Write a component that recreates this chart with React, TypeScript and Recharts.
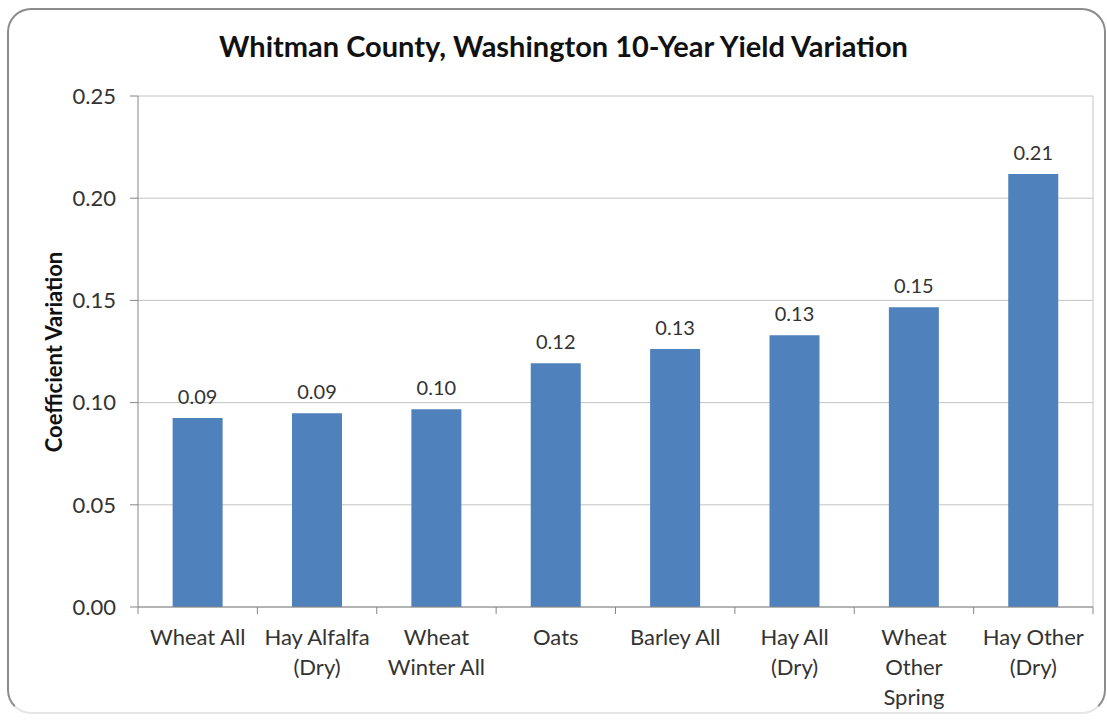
import { Bar, BarChart, CartesianGrid, LabelList, XAxis, YAxis } from 'recharts';

const categories = [
  'Wheat All',
  'Hay Alfalfa (Dry)',
  'Wheat Winter All',
  'Oats',
  'Barley All',
  'Hay All (Dry)',
  'Wheat Other Spring',
  'Hay Other (Dry)',
];

const tickLines = [
  ['Wheat All'],
  ['Hay Alfalfa', '(Dry)'],
  ['Wheat', 'Winter All'],
  ['Oats'],
  ['Barley All'],
  ['Hay All', '(Dry)'],
  ['Wheat', 'Other', 'Spring'],
  ['Hay Other', '(Dry)'],
];

const cv = [0.0925, 0.0948, 0.0968, 0.1193, 0.1262, 0.1330, 0.1466, 0.2118];

const yTicks = [0, 0.05, 0.1, 0.15, 0.2, 0.25];

const data = categories.map((name, i) => ({ name, cv: cv[i] }));

const FONT = 'Lato, "Open Sans", sans-serif';
const AXIS = '#868686';

function CatTick(props: any) {
  const { x, y, payload, index } = props;
  const half = payload?.offset || 59.7;
  const lines = tickLines[index] || [String(payload.value)];
  return (
    <g>
      <line x1={x - half} y1={y - 7} x2={x - half} y2={y} stroke={AXIS} />
      {index === categories.length - 1 && (
        <line x1={x + half} y1={y - 7} x2={x + half} y2={y} stroke={AXIS} />
      )}
      {lines.map((l: string, i: number) => (
        <text
          key={i}
          x={x}
          y={y + 31 + i * 30}
          textAnchor="middle"
          fill="#333"
          fontSize={22}
          fontFamily={FONT}
        >
          {l}
        </text>
      ))}
    </g>
  );
}

export default function App() {
  return (
    <div style={{ position: 'absolute', left: 0, top: 0, width: 1107, height: 721, overflow: 'hidden', background: '#fff' }}>
      <div
        style={{
          position: 'absolute',
          left: 7,
          top: 8,
          width: 1099,
          height: 706,
          border: '2px solid #8c8c8c',
          borderBottomColor: '#e6e6e6',
          borderRadius: 24,
          boxSizing: 'border-box',
        }}
      />
      <div
        style={{
          position: 'absolute',
          left: 0,
          top: 28,
          width: 1127,
          textAlign: 'center',
          fontFamily: FONT,
          fontWeight: 700,
          fontSize: 29,
          color: '#111',
        }}
      >
        Whitman County, Washington 10-Year Yield Variation
      </div>
      <div
        style={{
          position: 'absolute',
          left: 53,
          top: 352,
          transform: 'translate(-50%, -50%) rotate(-90deg)',
          whiteSpace: 'nowrap',
          fontFamily: FONT,
          fontWeight: 700,
          fontSize: 22,
          color: '#111',
        }}
      >
        Coefficient Variation
      </div>
      <div style={{ position: 'absolute', left: 0, top: 0 }}>
        <BarChart
          width={1107}
          height={721}
          data={data}
          margin={{ top: 96, right: 14, bottom: 14, left: 68 }}
          barCategoryGap="29%"
        >
          <CartesianGrid
            stroke="#c4c4c4"
            vertical={true}
            verticalPoints={[1093]}
          />
          <XAxis
            dataKey="name"
            interval={0}
            height={100}
            tickSize={7}
            tickMargin={0}
            tickLine={{ stroke: 'none' }}
            stroke={AXIS}
            tick={<CatTick />}
          />
          <YAxis
            width={70}
            domain={[0, 0.25]}
            ticks={yTicks}
            tickFormatter={(v: number) => v.toFixed(2)}
            tickSize={8}
            tickMargin={14}
            stroke={AXIS}
            tick={{ fill: '#333', fontSize: 22, fontFamily: FONT }}
          />
          <Bar dataKey="cv" fill="#4F81BD" isAnimationActive={false}>
            <LabelList
              dataKey="cv"
              position="top"
              offset={14}
              formatter={(v: any) => Number(v).toFixed(2)}
              fill="#333"
              fontSize={20}
              fontFamily={FONT}
            />
          </Bar>
        </BarChart>
      </div>
    </div>
  );
}
